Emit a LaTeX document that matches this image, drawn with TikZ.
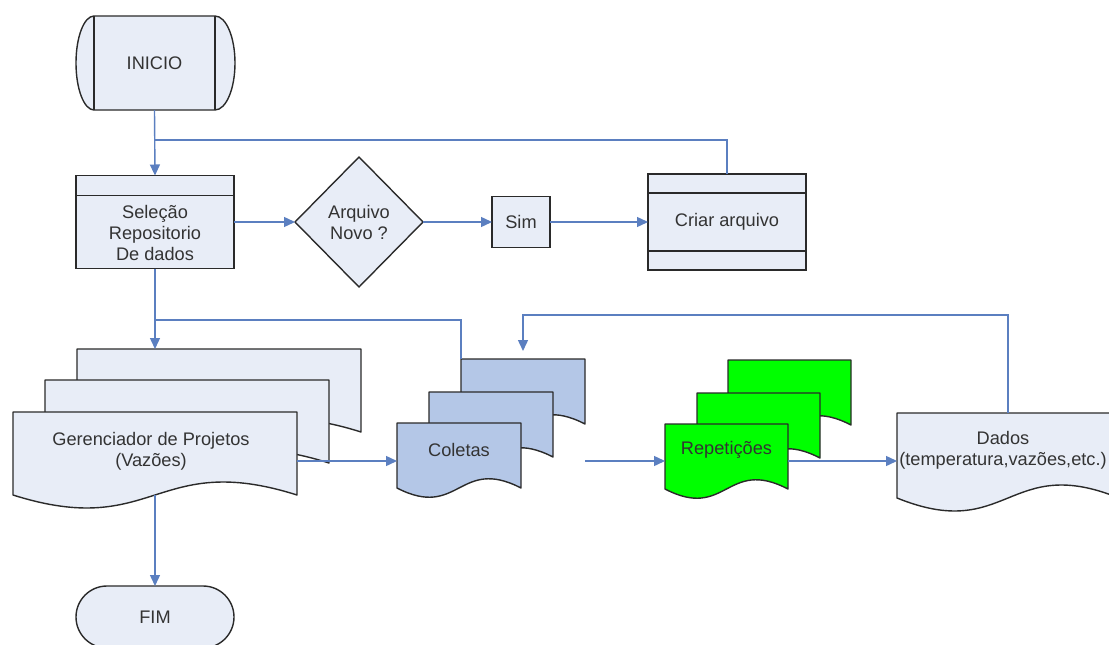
\documentclass[tikz,border=0pt]{standalone}
\usepackage{fontspec}
\setmainfont{Liberation Sans}
\usetikzlibrary{shapes.geometric,arrows.meta,calc}

\definecolor{paper}{HTML}{E8EDF7}
\definecolor{steel}{HTML}{B4C7E7}
\definecolor{lime}{HTML}{00FF00}
\definecolor{flow}{HTML}{5B7FC0}
\definecolor{ink}{HTML}{333333}
\definecolor{edge}{HTML}{2A2A2A}

% page with a wavy bottom edge, drawn over an invisible frame node
% #1 frame node, #2 fill colour, #3 strength of the wave
\newcommand\docpage[3]{%
  \path[draw=edge, line width=1.4pt, line join=round, fill=#2]
    (#1.north west) -- (#1.north east) -- (#1.south east)
    .. controls ($(#1.south)+(0,-#3)$) and ($(#1.south)+(0,#3)$) .. (#1.south west)
    -- cycle;}

\begin{document}
\begin{tikzpicture}[x=1pt, y=-1pt,
  every node/.style={font=\fontsize{18.2}{21}\selectfont, text=ink, inner sep=0pt, outer sep=0pt},
  box/.style={draw=edge, line width=1.4pt, fill=paper},
  sheet/.style args={#1x#2}{minimum width=#1pt, minimum height=#2pt},
  txt/.style={align=center},
  wire/.style={draw=flow, line width=1.4pt},
  flowarrow/.style={wire, -{Triangle[length=11pt, width=10pt]}},
  edgeline/.style={draw=edge, line width=1.4pt}]

\useasboundingbox (0,0) rectangle (1109,645);
\clip (0,0) rectangle (1109,645);

% ---- start: stored-data style terminal
\node[sheet=121x94] (inicio) at (154.5,63) {};
\path[draw=edge, line width=1.4pt, fill=paper]
  (inicio.north west) arc[start angle=90, end angle=270, x radius=18pt, y radius=47pt]
  -- (inicio.south east) arc[start angle=-90, end angle=90, x radius=20pt, y radius=47pt]
  -- cycle;
\draw[edgeline] (inicio.north west) -- (inicio.south west);
\draw[edgeline] (inicio.north east) -- (inicio.south east);
\node (iniciotext) at (inicio) {INICIO};

% ---- repository selection
\node[box, sheet=158x93] (sel) at (155,222) {};
\draw[edgeline] ($(sel.north west)+(0,20)$) -- ($(sel.north east)+(0,20)$);
\node[txt] (seltext) at (155,232.5) {Seleção\\Repositorio\\De dados};

% ---- decision
\node[box, diamond, sheet=128x130, txt] (novo) at (359,222) {Arquivo\\Novo ?};

% ---- yes
\node[box, sheet=58x51] (sim) at (521,222) {Sim};

% ---- create file
\node[box, sheet=158x96] (criar) at (727,222) {Criar arquivo};
\draw[edgeline] ($(criar.north west)+(0,19)$) -- ($(criar.north east)+(0,19)$);
\draw[edgeline] ($(criar.south west)+(0,-19)$) -- ($(criar.south east)+(0,-19)$);

% ---- project manager stack
\node[sheet=284x83] (gerA) at (219,390.5) {};
\node[sheet=284x83] (gerB) at (187,421.5) {};
\node[sheet=284x83] (gerC) at (155,453.5) {};
\docpage{gerA}{paper}{45}
\docpage{gerB}{paper}{45}
\docpage{gerC}{paper}{45}
\node[txt] (gertext) at (151,451) {Gerenciador de Projetos\\(Vazões)};

% ---- samples stack
\node[sheet=124x65] (colA) at (523,391.5) {};
\node[sheet=124x65] (colB) at (491,424.5) {};
\node[sheet=124x65] (colC) at (459,455.5) {};
\docpage{colA}{steel}{32}
\docpage{colB}{steel}{32}
\docpage{colC}{steel}{32}
\node (coltext) at (459,450) {Coletas};

% ---- repetitions stack
\node[sheet=123x65] (repA) at (789.5,392.5) {};
\node[sheet=123x65] (repB) at (758.5,425.5) {};
\node[sheet=123x65] (repC) at (726.5,456.5) {};
\docpage{repA}{lime}{32}
\docpage{repB}{lime}{32}
\docpage{repC}{lime}{32}
\node (reptext) at (726.5,450) {Repetições};

% ---- data
\node[sheet=222x85] (dados) at (1008,455.5) {};
\docpage{dados}{paper}{45}
\node[txt] (dadostext) at (1003,450) {Dados\\(temperatura,vazões,etc.)};

% ---- end
\node[box, rounded corners=31pt, sheet=158x62] (fim) at (155,617) {FIM};

% ---- connectors
\coordinate (j1) at (155,140);
\coordinate (j2) at (155,320);
\coordinate (loop) at (0,315);
\coordinate (row) at (0,461);

\draw[flowarrow] (inicio.south) -- (sel.north);
\draw[wire] (criar.north) |- (j1);
\draw[flowarrow] (sel.east) -- (novo.west);
\draw[flowarrow] (novo.east) -- (sim.west);
\draw[flowarrow] (sim.east) -- (criar.west);
\draw[flowarrow] (sel.south) -- (sel.south |- gerA.north);
\draw[wire] (j2) -| (colA.north west);
\draw[flowarrow, shorten >=8pt] (dados.north) |- (loop -| colA.north) -- (colA.north);
\draw[flowarrow] (gerC.east |- row) -- (colC.west |- row);
\draw[flowarrow] (colA.east |- row) -- (repC.west |- row);
\draw[flowarrow] (repC.east |- row) -- (dados.west |- row);
\draw[flowarrow] (gerC.south) -- (fim.north);

\end{tikzpicture}
\end{document}
